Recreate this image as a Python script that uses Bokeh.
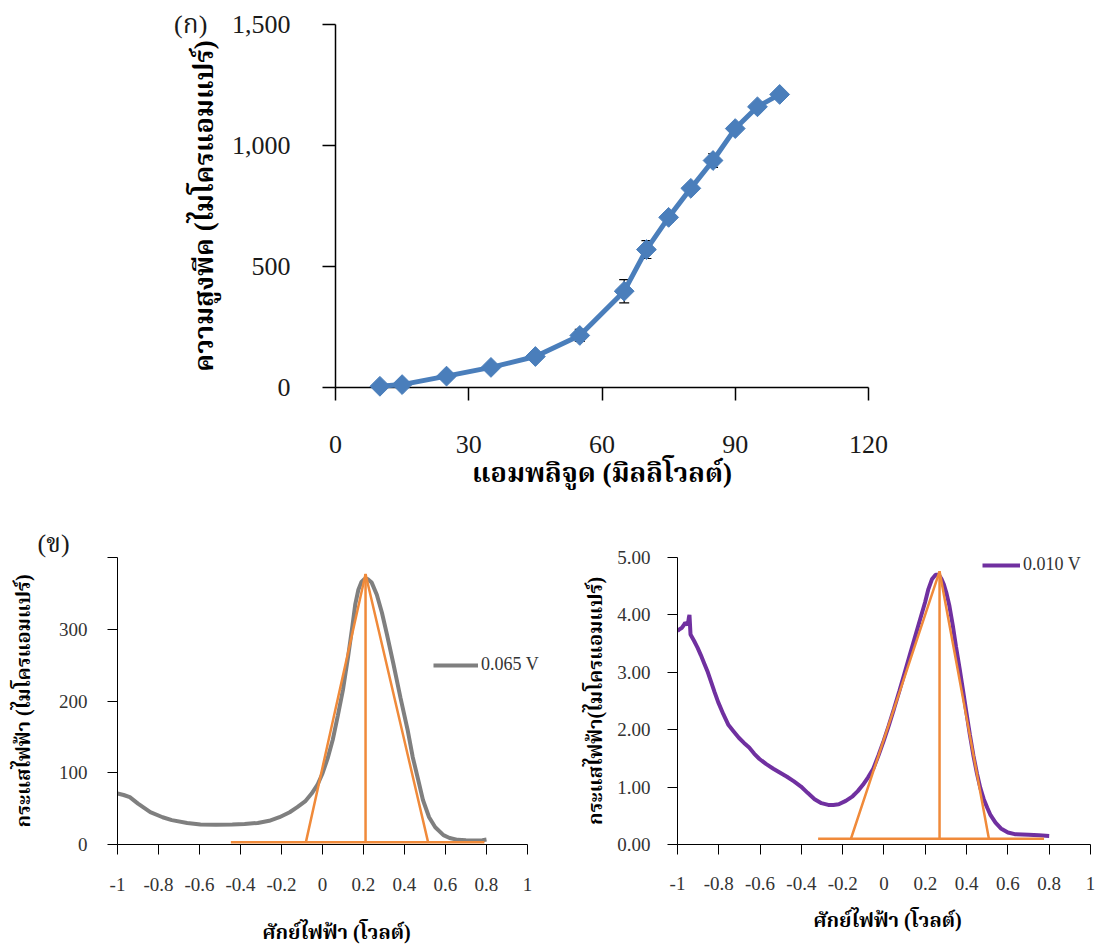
from bokeh.plotting import figure
from bokeh.models import (ColumnDataSource, Whisker, TeeHead, FixedTicker, NumeralTickFormatter,
                          PrintfTickFormatter, Legend, LegendItem, Range1d)
from bokeh.core.properties import value
from bokeh.layouts import column, row
from bokeh.embed import file_html
from bokeh.resources import INLINE

FONT = "'Liberation Serif', 'Noto Serif Thai', 'Noto Sans Thai', serif"

# ---------------- Panel (ก) data ----------------
amp_mv = [10, 15, 25, 35, 45, 55, 65, 70, 75, 80, 85, 90, 95, 100]
peak_ua = [5, 12, 47, 83, 128, 215, 398, 570, 703, 823, 938, 1070, 1160, 1211]
peak_err = [3, 5, 8, 10, 12, 25, 48, 37, 20, 15, 28, 15, 10, 8]
top_xticks = [0, 30, 60, 90, 120]
top_yticks = [0, 500, 1000, 1500]

# ---------------- Panel (ข) left data (0.065 V) ----------------
g_pot = [-1.00, -0.97, -0.94, -0.90, -0.84, -0.78, -0.735, -0.66, -0.595, -0.52, -0.44, -0.38,
         -0.316, -0.26, -0.21, -0.16, -0.123, -0.085, -0.053, -0.025, 0.00, 0.025, 0.05, 0.075,
         0.10, 0.125, 0.146, 0.16, 0.175, 0.19, 0.205, 0.22, 0.24, 0.265, 0.29, 0.315, 0.345,
         0.38, 0.415, 0.44, 0.467, 0.49, 0.52, 0.55, 0.59, 0.62, 0.66, 0.70, 0.747, 0.78, 0.80]
g_cur = [71, 69, 66, 57, 45, 38, 34, 30, 28, 27.5, 28, 28.5,
         30, 33, 38, 45, 52, 60, 71, 83, 99, 120, 146, 180,
         216, 262, 305, 335, 355, 366, 370, 370, 365, 348, 323, 292, 253,
         205, 160, 122, 90, 62, 38, 24, 13, 9, 6.5, 6, 5.6, 6, 7]
g_base_x = [-0.447, 0.79]
g_base_y = [3.3, 3.3]
g_tri_x = [-0.081, 0.21, 0.515]
g_tri_y = [3.3, 377, 3.3]
left_yticks = [0, 100, 200, 300, 400]

# ---------------- Panel (ข) right data (0.010 V) ----------------
p_pot = [-1.000, -0.990, -0.980, -0.970, -0.963, -0.950, -0.945, -0.942, -0.937, -0.920, -0.903,
         -0.887, -0.870, -0.853, -0.836, -0.820, -0.803, -0.778, -0.753, -0.728, -0.703, -0.678,
         -0.653, -0.628, -0.603, -0.570, -0.536, -0.503, -0.470, -0.436, -0.402, -0.370, -0.336,
         -0.303, -0.270, -0.245, -0.219, -0.185, -0.152, -0.127, -0.102, -0.077, -0.052, -0.027,
         -0.002, 0.023, 0.048, 0.074, 0.099, 0.124, 0.149, 0.174, 0.199, 0.215, 0.232, 0.250,
         0.265, 0.278, 0.290, 0.303, 0.316, 0.333, 0.349, 0.366, 0.382, 0.399, 0.416, 0.433,
         0.450, 0.466, 0.483, 0.500, 0.516, 0.540, 0.566, 0.600, 0.633, 0.700, 0.750, 0.800]
p_cur = [3.72, 3.75, 3.77, 3.82, 3.86, 3.83, 3.95, 4.00, 3.66, 3.55, 3.43,
         3.30, 3.15, 3.00, 2.82, 2.65, 2.48, 2.27, 2.08, 1.97, 1.86, 1.77,
         1.69, 1.58, 1.49, 1.40, 1.32, 1.25, 1.18, 1.10, 1.01, 0.90, 0.79,
         0.72, 0.69, 0.69, 0.70, 0.76, 0.84, 0.93, 1.04, 1.17, 1.32, 1.55,
         1.80, 2.07, 2.36, 2.67, 2.98, 3.29, 3.60, 3.91, 4.22, 4.45, 4.62, 4.70,
         4.70, 4.63, 4.53, 4.37, 4.17, 3.82, 3.44, 3.07, 2.70, 2.30, 1.91, 1.55,
         1.24, 0.99, 0.79, 0.64, 0.51, 0.38, 0.28, 0.21, 0.18, 0.17, 0.16, 0.15]
p_base_x = [-0.319, 0.775]
p_base_y = [0.10, 0.10]
p_tri_x = [-0.16, 0.269, 0.508]
p_tri_y = [0.10, 4.76, 0.10]
right_yticks = [0, 1, 2, 3, 4, 5]

pot_ticks = [-1, -0.8, -0.6, -0.4, -0.2, 0, 0.2, 0.4, 0.6, 0.8, 1]

BLUE = "#4A7EBB"
GREY = "#7F7F7F"
PURPLE = "#7030A0"
ORANGE = "#F08A3A"


def style_common(p):
    p.outline_line_color = None
    p.xgrid.visible = False
    p.ygrid.visible = False
    p.background_fill_color = "white"
    p.border_fill_color = "white"
    for ax in (p.xaxis[0], p.yaxis[0]):
        ax.minor_tick_line_color = None
        ax.major_tick_in = 0
        ax.axis_line_color = "black"
        ax.major_tick_line_color = "black"
        ax.major_label_text_font = FONT
        ax.axis_label_text_font = FONT
        ax.axis_label_text_font_style = "bold"
        ax.axis_label_text_color = "black"


# ---------------- Top figure ----------------
p1 = figure(width=1097, height=500, x_range=Range1d(0, 120), y_range=Range1d(0, 1500),
            output_backend="svg", toolbar_location=None,
            min_border_left=335, min_border_right=229, min_border_top=24, min_border_bottom=113)
style_common(p1)
p1.xaxis[0].ticker = FixedTicker(ticks=top_xticks)
p1.yaxis[0].ticker = FixedTicker(ticks=top_yticks)
p1.yaxis[0].formatter = NumeralTickFormatter(format="0,0")
for ax in (p1.xaxis[0], p1.yaxis[0]):
    ax.major_tick_out = 13
    ax.axis_line_width = 1.5
    ax.major_tick_line_width = 1.5
    ax.major_label_text_font_size = "26px"
    ax.major_label_text_color = "#1a1a1a"
    ax.axis_label_text_font_size = "27px"
p1.xaxis[0].major_label_standoff = 35
p1.yaxis[0].major_label_standoff = 32
p1.xaxis[0].axis_label = "แอมพลิจูด (มิลลิโวลต์)"
p1.yaxis[0].axis_label = "ความสูงพีค (ไมโครแอมแปร์)"
p1.xaxis[0].axis_label_standoff = 2
p1.yaxis[0].axis_label_standoff = 10

src1 = ColumnDataSource(dict(x=amp_mv, y=peak_ua,
                             upper=[v + e for v, e in zip(peak_ua, peak_err)],
                             lower=[v - e for v, e in zip(peak_ua, peak_err)]))
p1.add_layout(Whisker(base="x", upper="upper", lower="lower", source=src1, line_color="black",
                      line_width=1.2,
                      upper_head=TeeHead(size=10, line_color="black", line_width=1.2),
                      lower_head=TeeHead(size=10, line_color="black", line_width=1.2)))
r_line = p1.line("x", "y", source=src1, line_color=BLUE, line_width=5)
r_pts = p1.scatter("x", "y", source=src1, marker="square", angle=0.785398, size=14,
                   fill_color=BLUE, line_color=BLUE)
r_line.level = "overlay"
r_pts.level = "overlay"
t1 = p1.text(x=[-32.6], y=[1500], text=["(ก)"], text_font=value(FONT), text_font_size="26px",
             text_align="center", text_baseline="middle", text_color="#1a1a1a")
t1.level = "overlay"

# ---------------- Bottom-left figure ----------------
p2 = figure(width=560, height=447, x_range=Range1d(-1, 1.1366), y_range=Range1d(0, 400),
            output_backend="svg", toolbar_location=None,
            min_border_left=117, min_border_right=5, min_border_top=57, min_border_bottom=103)
style_common(p2)
p2.xaxis[0].bounds = (-1, 1)
p2.xaxis[0].ticker = FixedTicker(ticks=pot_ticks)
p2.xaxis[0].formatter = PrintfTickFormatter(format="%g")
p2.yaxis[0].ticker = FixedTicker(ticks=left_yticks)
p2.yaxis[0].major_label_overrides = {400: ""}
for ax in (p2.xaxis[0], p2.yaxis[0]):
    ax.major_tick_out = 10
    ax.major_label_text_font_size = "19px"
    ax.major_label_text_color = "#333333"
    ax.axis_label_text_font_size = "20px"
p2.xaxis[0].major_label_standoff = 23
p2.yaxis[0].major_label_standoff = 20
p2.xaxis[0].axis_label = "ศักย์ไฟฟ้า (โวลต์)"
p2.yaxis[0].axis_label = "กระแสไฟฟ้า (ไมโครแอมแปร์)"
p2.xaxis[0].axis_label_standoff = 27
p2.yaxis[0].axis_label_standoff = 22

g_line = p2.line(g_pot, g_cur, line_color=GREY, line_width=4)
p2.line(g_base_x, g_base_y, line_color=ORANGE, line_width=2.5)
p2.line(g_tri_x, g_tri_y, line_color=ORANGE, line_width=2.5)
p2.line([g_tri_x[1], g_tri_x[1]], [g_base_y[0], g_tri_y[1]], line_color=ORANGE, line_width=2.5)
leg2 = Legend(items=[LegendItem(label="0.065 V", renderers=[g_line])], location=(316, 169),
              glyph_width=45, glyph_height=20, label_standoff=3, padding=0, margin=0,
              border_line_color=None, background_fill_alpha=0,
              label_text_font=FONT, label_text_font_size="18px", label_text_color="#333333")
p2.add_layout(leg2)
t2 = p2.text(x=[-1.312], y=[419.5], text=["(ข)"], text_font=value(FONT), text_font_size="26px",
             text_align="center", text_baseline="middle", text_color="#1a1a1a")
t2.level = "overlay"

# ---------------- Bottom-right figure ----------------
p3 = figure(width=537, height=447, x_range=Range1d(-1, 1.0339), y_range=Range1d(0, 5),
            output_backend="svg", toolbar_location=None,
            min_border_left=117, min_border_right=0, min_border_top=51, min_border_bottom=100)
style_common(p3)
p3.xaxis[0].bounds = (-1, 1)
p3.xaxis[0].ticker = FixedTicker(ticks=pot_ticks)
p3.xaxis[0].formatter = PrintfTickFormatter(format="%g")
p3.yaxis[0].ticker = FixedTicker(ticks=right_yticks)
p3.yaxis[0].formatter = NumeralTickFormatter(format="0.00")
for ax in (p3.xaxis[0], p3.yaxis[0]):
    ax.major_tick_out = 10
    ax.major_label_text_font_size = "19px"
    ax.major_label_text_color = "#333333"
    ax.axis_label_text_font_size = "20px"
p3.xaxis[0].major_label_standoff = 22
p3.yaxis[0].major_label_standoff = 17
p3.xaxis[0].axis_label = "ศักย์ไฟฟ้า (โวลต์)"
p3.yaxis[0].axis_label = "กระแสไฟฟ้า(ไมโครแอมแปร์)"
p3.xaxis[0].axis_label_standoff = 16
p3.yaxis[0].axis_label_standoff = 8

pu_line = p3.line(p_pot, p_cur, line_color=PURPLE, line_width=4)
p3.line(p_base_x, p_base_y, line_color=ORANGE, line_width=2.5)
p3.line(p_tri_x, p_tri_y, line_color=ORANGE, line_width=2.5)
p3.line([p_tri_x[1], p_tri_x[1]], [p_base_y[0], p_tri_y[1]], line_color=ORANGE, line_width=2.5)
leg3 = Legend(items=[LegendItem(label="0.010 V", renderers=[pu_line])], location=(305, 269),
              glyph_width=38, glyph_height=20, label_standoff=3, padding=0, margin=0,
              border_line_color=None, background_fill_alpha=0,
              label_text_font=FONT, label_text_font_size="18px", label_text_color="#333333")
p3.add_layout(leg3)

layout = column(p1, row(p2, p3, spacing=0), spacing=0)
open("out.html", "w").write(file_html(layout, INLINE))
